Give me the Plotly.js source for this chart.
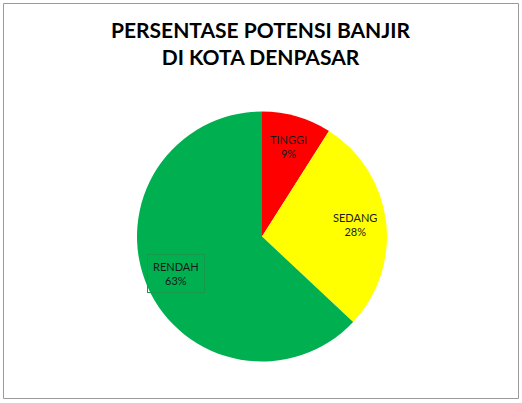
<!DOCTYPE html>
<html>
<head>
<meta charset="utf-8">
<script src="https://cdn.plot.ly/plotly-3.0.1.min.js"></script>
<style>html,body{margin:0;padding:0;background:#fff;}#chart{width:522px;height:403px;}</style>
</head>
<body>
<div id="chart"></div>
<script>
const categories = ["TINGGI", "SEDANG", "RENDAH"];
const values = [9, 28, 63];
const colors = ["#FF0000", "#FFFF00", "#00B050"];
const chartTitle = "PERSENTASE POTENSI BANJIR<br>DI KOTA DENPASAR";

const W = 522, H = 403;
const cx = 262, cy = 236.5, R = 125;
const labelFont = { family: "Lato, 'Open Sans', sans-serif", size: 11, color: "#1a1a1a" };

const total = values.reduce((a, b) => a + b, 0);
let cum = 0;
const annotations = categories.map((cat, i) => {
  const frac = values[i] / total;
  const mid = (cum + frac / 2) * 2 * Math.PI;
  cum += frac;
  const r = 0.75 * R;
  const px = cx + r * Math.sin(mid);
  const py = cy - r * Math.cos(mid);
  const ann = {
    xref: "paper", yref: "paper",
    x: px / W, y: 1 - py / H,
    xanchor: "center", yanchor: "middle",
    text: cat + "<br>" + Math.round(frac * 100) + "%",
    showarrow: false,
    font: labelFont,
    align: "center"
  };
  if (cat === "RENDAH") {
    ann.bordercolor = "#159a4c";
    ann.borderwidth = 1;
    ann.borderpad = 5;
  }
  return ann;
});

const trace = {
  type: "pie",
  labels: categories,
  values: values,
  sort: false,
  direction: "clockwise",
  rotation: 0,
  marker: { colors: colors, line: { width: 0 } },
  textinfo: "none",
  hoverinfo: "label+percent",
  showlegend: false,
  domain: { x: [(cx - R) / W, (cx + R) / W], y: [(H - cy - R) / H, (H - cy + R) / H] }
};

const layout = {
  width: W, height: H,
  margin: { l: 0, r: 0, t: 0, b: 0 },
  paper_bgcolor: "#fff",
  title: {
    text: chartTitle,
    x: 0.499, xanchor: "center",
    y: 1 - 38 / H, yanchor: "top",
    font: { family: "Lato, 'Open Sans', sans-serif", size: 21, color: "#000", weight: "bold" }
  },
  showlegend: false,
  annotations: annotations,
  shapes: [{
    type: "rect", xref: "paper", yref: "paper",
    x0: 3.5 / W, x1: 518.5 / W, y0: 1 - 398.5 / H, y1: 1 - 3.5 / H,
    line: { color: "#9a9a9a", width: 1 }, fillcolor: "rgba(0,0,0,0)", layer: "below"
  }]
};

Plotly.newPlot("chart", [trace], layout, { displayModeBar: false, staticPlot: true });
</script>
</body>
</html>
